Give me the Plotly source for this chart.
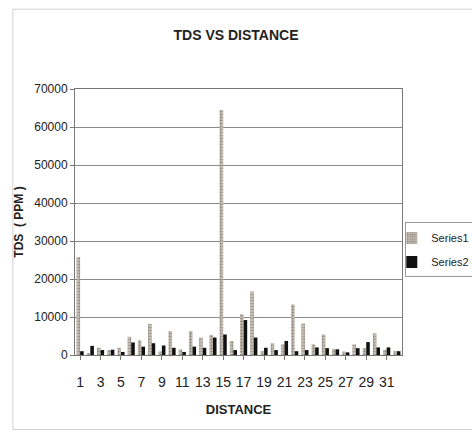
import plotly.graph_objects as go

distance = list(range(1, 33))
series1 = [25800, 500, 1900, 1300, 1900, 4800, 3900, 8200, 900, 6300, 1500, 6300,
           4600, 5300, 64500, 3700, 10700, 16700, 1000, 3100, 2800, 13300, 8300, 2800,
           5400, 1600, 900, 2800, 1800, 5700, 1400, 1000]
series2 = [1000, 2400, 1300, 1400, 800, 3300, 2200, 3100, 2500, 1900, 800, 2200,
           1900, 4600, 5400, 1300, 9200, 4600, 1900, 1300, 3700, 1000, 1300, 2000,
           1800, 1500, 700, 1800, 3400, 2000, 2000, 1000]
x_ticks = list(range(1, 32, 2))
y_ticks = list(range(0, 70001, 10000))

fig = go.Figure()
fig.add_trace(go.Bar(
    x=distance, y=series1, name="Series1", legendgroup="a",
    marker=dict(color="#c9c0b4", line=dict(width=0),
                pattern=dict(shape=".", fgcolor="#4a4a4a", bgcolor="#c9c0b4", size=3, solidity=0.4)),
))
fig.add_trace(go.Bar(
    x=distance, y=series2, name="Series2", legendgroup="b",
    marker=dict(color="#111111", line=dict(width=0)),
))

narrow = "Liberation Sans Narrow, Arial Narrow, Liberation Sans, Arial, sans-serif"
sans = "Liberation Sans, Arial, sans-serif"
fig.update_layout(
    width=472, height=432,
    margin=dict(l=75, r=70, t=89, b=77, autoexpand=False),
    paper_bgcolor="white", plot_bgcolor="white",
    barmode="group", bargap=0.3, bargroupgap=0.0,
    font=dict(family=narrow, size=12, color="#222"),
    title=dict(text="<b>TDS VS DISTANCE</b>", x=0.5, xanchor="center", y=0.918, yanchor="middle",
               font=dict(family=narrow, size=14, color="#222")),
    xaxis=dict(
        range=[0.5, 32.5], tickvals=x_ticks, ticktext=[str(v) for v in x_ticks],
        ticks="outside", ticklen=4, tickcolor="#777", showgrid=False,
        showline=True, linecolor="#777", mirror=True, zeroline=False,
        ticklabelstandoff=10,
        tickfont=dict(family=narrow, size=14, color="#222"),
        title=dict(text="<b>DISTANCE</b>", standoff=16,
                   font=dict(family=narrow, size=13, color="#222")),
    ),
    yaxis=dict(
        range=[0, 70000], tickvals=y_ticks, ticktext=[str(v) for v in y_ticks],
        ticks="outside", ticklen=4, tickcolor="#777",
        showgrid=True, gridcolor="#8a8a8a", gridwidth=1,
        showline=True, linecolor="#777", mirror=True, zeroline=False,
        tickfont=dict(family=sans, size=12, color="#222"),
        title=dict(text="<b>TDS  ( PPM )</b>", standoff=8,
                   font=dict(family=sans, size=12, color="#222")),
    ),
    legend=dict(x=1.01, y=0.395, xanchor="left", yanchor="middle",
                bordercolor="#999", borderwidth=1, bgcolor="white",
                traceorder="grouped", tracegroupgap=5, indentation=-15,
                font=dict(family=narrow, size=11, color="#222"),
                itemwidth=30),
    showlegend=True,
)
fig.add_shape(type="rect", xref="paper", yref="paper", x0=-0.19, x1=1.22, y0=-0.28, y1=1.3,
              line=dict(color="#d0d0d0", width=1))

fig.write_html("out.html")
